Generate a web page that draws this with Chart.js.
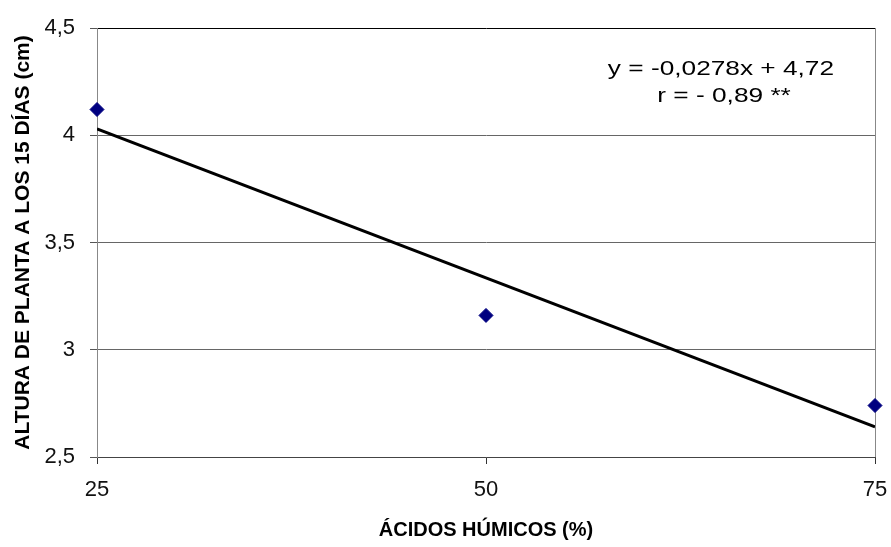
<!DOCTYPE html>
<html>
<head>
<meta charset="utf-8">
<script src="https://cdn.jsdelivr.net/npm/chart.js@4"></script>
<style>
  html, body { margin: 0; padding: 0; background: #fff; }
  #chart { display: block; }
</style>
</head>
<body>
<canvas id="chart" width="891" height="547"></canvas>
<script>
// datos
const doses = [25, 50, 75];
const alturas = [4.12, 3.16, 2.74];
const trendX = [25, 75];
const trendY = [4.03, 2.64];
const xTicks = [25, 50, 75];
const yTicks = [2.5, 3, 3.5, 4, 4.5];
const yTickLabels = ['2,5', '3', '3,5', '4', '4,5'];
const eqLines = ['y = -0,0278x + 4,72', 'r = - 0,89 **'];
const eqX = [65.1, 65.3];
const eqY = [4.31, 4.18];

const FONT = "'Liberation Sans', Arial, sans-serif";

const equationLabel = {
    id: 'equationLabel',
    afterDatasetsDraw(chart) {
        const { ctx, scales: { x, y } } = chart;
        ctx.save();
        ctx.font = '21px ' + FONT;
        ctx.fillStyle = '#000';
        ctx.textAlign = 'center';
        ctx.textBaseline = 'middle';
        eqLines.forEach((txt, i) => {
            ctx.save();
            ctx.translate(x.getPixelForValue(eqX[i]), y.getPixelForValue(eqY[i]));
            ctx.scale(1.25, 1);
            ctx.fillText(txt, 0, 0);
            ctx.restore();
        });
        ctx.restore();
    }
};

new Chart(document.getElementById('chart'), {
    type: 'scatter',
    data: {
        datasets: [{
            label: 'Altura',
            data: doses.map((d, i) => ({ x: d, y: alturas[i] })),
            backgroundColor: '#000080',
            borderColor: '#000080',
            pointStyle: 'rectRot',
            pointRadius: 7,
            pointHoverRadius: 7,
            clip: false,
            order: 0
        }, {
            label: 'Tendencia',
            data: trendX.map((d, i) => ({ x: d, y: trendY[i] })),
            showLine: true,
            borderColor: '#000',
            borderWidth: 3,
            pointRadius: 0,
            order: 1
        }]
    },
    options: {
        responsive: false,
        animation: false,
        layout: { padding: { left: 0, right: 16, top: 28, bottom: 0 } },
        plugins: { legend: { display: false }, tooltip: { enabled: false } },
        scales: {
            x: {
                type: 'linear',
                min: 25,
                max: 75,
                afterBuildTicks: s => { s.ticks = xTicks.map(v => ({ value: v })); },
                afterFit: s => {
                    s.height = 90;
                    s.paddingLeft = 0;
                    s.paddingRight = 0;
                },
                ticks: { font: { family: FONT, size: 22 }, color: '#111', padding: 13 },
                grid: {
                    color: c => (c.tick && c.tick.value === 75 ? '#888' : 'rgba(0,0,0,0)'),
                    tickColor: '#333',
                    tickLength: 7
                },
                border: { color: '#444', width: 1 },
                title: {
                    display: true,
                    text: 'ÁCIDOS HÚMICOS (%)',
                    font: { family: FONT, size: 20, weight: 'bold' },
                    color: '#000',
                    padding: { top: 0, bottom: 5 }
                }
            },
            y: {
                type: 'linear',
                min: 2.5,
                max: 4.5,
                afterBuildTicks: s => { s.ticks = yTicks.map(v => ({ value: v })); },
                afterFit: s => {
                    s.width = 97;
                    s.paddingTop = 0;
                    s.paddingBottom = 0;
                },
                ticks: {
                    font: { family: FONT, size: 22 },
                    color: '#111',
                    padding: 15,
                    callback: (v, i) => yTickLabels[i]
                },
                grid: {
                    color: c => (c.tick && c.tick.value === 4.5 ? '#000' : '#666'),
                    tickColor: '#555',
                    tickLength: 7
                },
                border: { color: '#888', width: 1 },
                title: {
                    display: true,
                    text: 'ALTURA DE PLANTA A LOS 15 DÍAS (cm)',
                    font: { family: FONT, size: 21, weight: 'bold' },
                    color: '#000',
                    padding: { top: 11, bottom: 0 }
                }
            }
        }
    },
    plugins: [equationLabel]
});
</script>
</body>
</html>
